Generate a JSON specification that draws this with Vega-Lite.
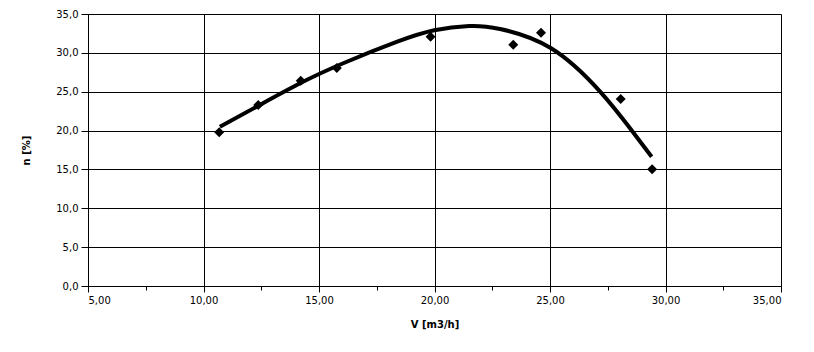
{
  "$schema": "https://vega.github.io/schema/vega-lite/v6.json",
  "width": 693,
  "height": 272,
  "autosize": "none",
  "padding": {"left": 88, "top": 14, "right": 33, "bottom": 66},
  "background": "white",
  "config": {
    "locale": {"number": {"decimal": ",", "thousands": ".", "grouping": [3], "currency": ["", ""]}},
    "view": {"stroke": null},
    "font": "DejaVu Sans",
    "axis": {
      "labelFont": "DejaVu Sans",
      "labelFontSize": 10,
      "labelColor": "black",
      "titleFont": "DejaVu Sans",
      "titleFontSize": 10,
      "titleFontWeight": "bold",
      "titleColor": "black",
      "domainColor": "black",
      "tickColor": "black",
      "gridColor": "black",
      "gridOpacity": 1,
      "gridWidth": 1,
      "domainWidth": 1,
      "tickWidth": 1
    }
  },
  "datasets": {
    "measured": [
      {"V": 10.68, "n": 19.78},
      {"V": 12.37, "n": 23.29},
      {"V": 14.21, "n": 26.42},
      {"V": 15.77, "n": 28.05},
      {"V": 19.83, "n": 32.08},
      {"V": 23.41, "n": 31.05},
      {"V": 24.61, "n": 32.6},
      {"V": 28.06, "n": 24.06},
      {"V": 29.42, "n": 15.01}
    ],
    "trend": [
      {"V": 10.71, "n": 20.5},
      {"V": 12.3, "n": 23.07},
      {"V": 14.18, "n": 26.08},
      {"V": 16.05, "n": 28.66},
      {"V": 18.36, "n": 31.4},
      {"V": 19.99, "n": 32.9},
      {"V": 21.5, "n": 33.45},
      {"V": 22.84, "n": 33.07},
      {"V": 25.03, "n": 30.63},
      {"V": 27.16, "n": 25.05},
      {"V": 28.53, "n": 20.04},
      {"V": 29.4, "n": 16.64}
    ]
  },
  "layer": [
    {
      "data": {"name": "trend"},
      "mark": {"type": "line", "color": "black", "strokeWidth": 4, "interpolate": "natural", "strokeCap": "butt"},
      "encoding": {
        "x": {
          "field": "V", "type": "quantitative",
          "scale": {"domain": [5, 35], "nice": false, "zero": false},
          "axis": {
            "orient": "bottom",
            "values": [5, 10, 15, 20, 25, 30, 35],
            "format": ".2f",
            "title": "V [m3/h]",
            "tickSize": 6,
            "labelPadding": 3,
            "titlePadding": 14,
            "grid": true
          }
        },
        "y": {
          "field": "n", "type": "quantitative",
          "scale": {"domain": [0, 35], "nice": false},
          "axis": {
            "values": [0, 5, 10, 15, 20, 25, 30, 35],
            "format": ".1f",
            "title": "n [%]",
            "tickSize": 7,
            "labelPadding": 3,
            "titlePadding": 24,
            "grid": true
          }
        }
      }
    },
    {
      "data": {"name": "measured"},
      "mark": {"type": "point", "shape": "diamond", "filled": true, "color": "black", "size": 100, "opacity": 1},
      "encoding": {
        "x": {
          "field": "V", "type": "quantitative",
          "axis": {
            "orient": "bottom",
            "values": [7.5, 12.5, 17.5, 22.5, 27.5, 32.5],
            "labels": false,
            "domain": false,
            "grid": false,
            "tickSize": 4,
            "title": null
          }
        },
        "y": {"field": "n", "type": "quantitative", "axis": null}
      }
    }
  ],
  "resolve": {"axis": {"x": "independent", "y": "independent"}}
}
